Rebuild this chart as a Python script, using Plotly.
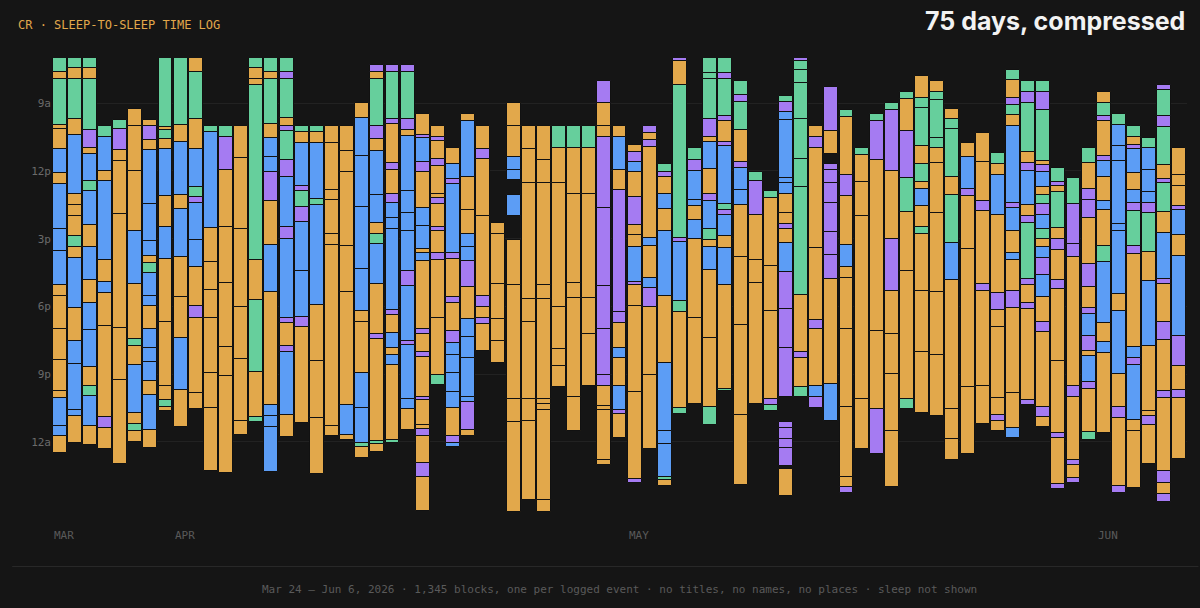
import plotly.graph_objects as go

# one entry per day, Mar 24 .. Jun 6; hours from midnight (24+ = after midnight)
START = [7.0, 7.0, 7.0, 10.03, 9.76, 9.26, 9.76, 7.0, 7.0, 7.0,
         10.03, 10.03, 10.03, 7.0, 7.0, 7.0, 10.03, 10.03, 10.03, 10.03,
         9.0, 7.3, 7.3, 7.3, 9.5, 10.03, 11.0, 9.5, 10.03, 14.3,
         9.0, 10.03, 10.03, 10.03, 10.03, 10.03, 8.0, 10.03, 10.85, 10.03,
         11.7, 7.0, 11.0, 7.0, 7.0, 8.0, 12.05, 12.9, 8.68, 7.0,
         10.03, 8.3, 9.3, 11.0, 9.5, 9.0, 8.5, 7.8, 8.0, 9.26,
         10.77, 10.32, 11.2, 7.53, 8.0, 8.0, 11.87, 12.3, 11.0, 8.5,
         9.5, 10.03, 10.53, 8.2, 11.0]

# blocks per day: category letter + hours (g=green b=blue o=orange p=purple, x=unlogged gap)
BLOCKS = [
    "g.6 o.35 g2.0 o.2 o.9 b1.05 o.5 b1.95 b1.0 b1.5 o.5 o1.45 o1.35 o1.4 o.3 b1.25 b.45 o.75",
    "g.45 o.5 g1.75 o.7 b2.6 o.5 o.5 o.9 g.45 o.5 b2.2 o1.5 b1.0 b2.05 b.25 o1.2",
    "g.45 o.5 g2.25 p.8 o.25 b1.2 g.45 b1.5 o.95 b1.5 o1.0 b1.2 b1.65 o.8 g.45 b1.35 o.85",
    "g.47 b1.5 o.45 b3.5 o.95 b.5 o1.45 o4.05 p.47 o.93",
    "g.4 p.9 o.5 o2.35 o5.05 o2.3 o3.7",
    "o.75 o2.0 o2.65 b2.35 o2.45 g.3 o.85 b2.1 o.5 g.3 o.5",
    "o.27 p.6 o.45 b2.4 b1.6 b.7 o.3 g.45 b1.0 b.45 o1.0 b.85 b.65 b.8 o.65 b1.55 o.8",
    "g3.05 o.15 g.4 o.45 b2.05 o1.4 b1.4 o2.8 o2.8 o.65 g.3 o.2",
    "g2.95 o.75 b2.35 o.65 b2.1 o1.8 o1.8 b2.3 o1.65",
    "o.6 g2.1 o1.35 b1.65 g.45 p.25 b1.65 b1.2 o1.75 p.5 o3.35 o.7",
    "g.25 b4.25 o1.5 o1.25 o1.25 o2.4 o1.55 o2.8",
    "g.45 p1.5 o2.5 o2.5 o2.8 o1.3 o4.3",
    "o1.4 o3.15 o3.45 o2.3 o2.75 o.6",
    "g.45 o.5 o.25 g7.75 o1.75 g3.2 o2.0 g.2",
    "g.6 o.35 g1.95 o.65 b.85 b.65 p1.3 o1.95 b2.05 o5.0 b.5 b.5 b2.0",
    "g.6 p.35 g1.7 o.35 p.25 g1.25 p.75 b2.25 p.5 b3.5 p.25 o1.0 p.25 b2.8 o1.0",
    "g.25 o.5 b1.9 p.22 g.7 p.65 b2.2 b2.0 p.45 o4.25",
    "g.25 o.5 b2.45 g.3 b4.4 o2.5 o2.5 o2.5",
    "o.75 o2.05 o.45 o1.5 o.5 o8.0 o.45",
    "o1.1 o.9 o3.3 o2.05 o5.0 b1.3 o.25",
    "o.65 b1.7 b2.25 b2.75 b1.85 o.5 o2.25 b1.55 b1.55 g.15 o.5",
    "p.3 o.35 g2.05 p.6 o.5 b1.95 b1.25 o.5 g.45 b1.75 o2.2 p.25 o4.5 g.15 o.35",
    "p.3 g2.1 p.22 o1.75 p.3 o1.05 p.4 b.65 b.5 b3.6 p.22 o.8 b.65 o.3 b.45 o3.3 g.15",
    "p.3 g2.1 p.5 o.25 b2.45 b.95 b.8 b1.8 p.65 b2.45 p.15 b2.4 b.45 o.9",
    "o.9 p.15 b1.05 p.45 o1.6 b.8 b1.0 o.2 b.35 o3.0 p.22 o.8 p.22 o1.75 p.15 o1.1 o.2 p.3 o1.2 p.6 o1.5",
    "o.45 p.2 o.8 p.3 o1.25 o.15 p.3 o1.0 p.2 o.95 p.3 o2.6 o2.5 g.45",
    "o.7 b.65 p.25 b3.05 p.25 o1.7 p.25 o1.25 p.5 b.55 b.8 b.85 b.7 o1.25 p.3 b.15",
    "o.3 b2.45 o1.5 o1.05 b.55 b.65 p1.15 o1.4 b.8 b.95 b1.7 b.25 p1.2 o.3",
    "o1.0 p.45 o2.5 o3.55 p.5 o.5 p.25 o1.2",
    "o.5 o2.2 o1.55 o1.0 o.95",
    "o1.0 o1.4 b.55 b.45 x.65 b.95 x1.05 o2.0 o5.05 o1.0 o4.0",
    "o1.0 o1.5 o5.15 o1.0 o3.4 o1.0 o3.5",
    "o1.5 o1.0 o4.5 o.65 o4.4 o.25 o.25 o4.0 o.5",
    "g.95 o1.55 o5.5 o1.85 o.75 o.95",
    "g.95 o2.05 o3.95 o.65 o4.4 o1.5",
    "g.95 o2.05 o4.6 o1.6 o2.3",
    "p1.0 o1.0 o.5 p3.15 p3.45 p1.9 p2.05 p.45 o.9 o.2 o2.2 o.2",
    "o.45 b1.5 o.85 p5.4 p.5 o1.1 b.45 o1.25 b1.05 p.2 o1.05",
    "o.3 p.45 b.45 o1.1 p1.25 o.45 o.5 b1.55 p.15 o.95 o3.8 o3.85 p.15",
    "p.3 o.3 p.3 o4.05 b.35 o1.4 b.45 p.85 o3.0 o3.3",
    "g.35 p.2 o.75 b.7 o.95 b2.9 o2.95 b3.0 b.6 b1.45 g.12 o.3",
    "p.15 o1.05 g6.75 p.2 b2.6 g.5 o4.25 g.25",
    "g.5 p.5 b1.3 b.25 o.6 b.85 o3.5 o3.8",
    "g.65 g.3 g1.75 p.8 o.2 b1.2 o1.1 p.35 b1.2 g.5 o.3 b1.05 o3.0 o3.05 g.8",
    "g.65 p.3 g1.6 p.25 o.9 p.2 b2.55 g.3 p.2 b.95 o.5 b1.65 o4.6 g.1",
    "g.65 p.3 g1.25 o1.4 p.25 b1.0 b.65 o2.3 o3.0 o4.0 o3.1",
    "g.4 p1.5 o2.0 o1.0 o5.35",
    "g.3 o3.0 o2.0 o3.9 p.25 g.3",
    "g.25 p.45 b.35 b2.6 b.2 b.5 o.85 o.45 p.25 o.6 b1.3 p1.65 p1.7 p2.2 x1.1 p.25 p.5 p.4 p.8 x.1 o1.2",
    "p.15 g.4 g.55 g1.6 g1.75 g1.25 g4.8 o2.5 p.3 o1.25 g.45",
    "o.45 p.5 o4.45 o3.15 p.4 o2.55 b.5 p.45",
    "p1.95 o1.0 x.45 p.25 p.6 p.85 p1.3 p1.0 p1.1 o4.65 b1.6",
    "g.3 o2.6 p.9 o2.2 b.95 o.5 o2.25 o3.45 o3.1 o.45 p.25",
    "g.3 o1.2 o1.5 o8.1 o2.2",
    "g.3 p1.7 o7.6 o3.45 p2.0",
    "g.3 p2.7 o3.0 p2.3 o1.9 o1.8 o2.5 o2.5",
    "g.3 o1.45 p2.05 g1.5 o2.65 o5.65 g.45",
    "o.95 g.45 g1.7 o.8 g.8 o.3 b.75 o.95 g.3 o2.5 o2.7 o2.7",
    "o.5 g.35 g1.7 g.45 o.65 o2.2 o3.5 o2.8 o2.7",
    "o.45 g.45 g2.1 o.8 g2.15 b1.6 o5.75 o1.3 o.95",
    "o.6 b1.45 p.3 o2.35 o6.1 o2.95",
    "o1.3 o1.7 p.45 o3.25 p.3 o4.2 o1.7",
    "g.5 o.5 b1.75 o3.45 p.75 o.75 o3.15 o.75 p.25 o.45",
    "g.45 o.8 p.3 g.45 o.5 b3.4 p.2 b1.05 o.95 b.3 o1.4 p.75 o3.75 o1.55 b.45",
    "g.5 p.5 g2.15 o.5 p.35 b1.5 o.5 p.3 g2.5 p.25 o.8 p.25 o4.05 p.2",
    "g.5 p.8 g2.25 o.2 p.3 b.65 o.35 g.4 p.5 b.6 g.45 o.35 b.5 p.75 b1.0 o1.1 p.45 o3.3 p.45 o.45",
    "g.6 p.2 o.25 g1.6 o.5 p.5 o1.3 p.4 o3.2 o3.2 p.2 o2.05 p.2",
    "g1.15 p1.8 p.55 o5.7 p.5 o2.8 p.2 o.6 p.2",
    "g.65 o1.15 p.5 p.8 o2.0 p1.05 o.9 p.3 b.95 p.65 o.25 b1.15 p.3 o1.9 g.35",
    "o.5 g.55 p.22 o1.55 p.22 b.75 o1.05 b.4 o1.6 g.7 b2.7 o.85 b.45 o3.55",
    "g.45 b.95 b.65 b2.8 b.3 b2.8 o.75 b2.8 o1.45 p.5 o3.0 p.3",
    "g.45 o.35 p.2 b1.05 o.75 b.6 p.35 g1.55 p.35 o4.1 b.5 p.3 b2.45 o.5 o2.5",
    "g.45 b1.0 b.95 b.5 p.45 g1.7 o1.3 b2.85 o2.9 o.2 p.4 o1.75",
    "p.2 g1.15 p.5 g1.7 o.6 p.2 g1.25 o.95 b2.05 p.2 o1.7 p.8 o2.25 p.3 o3.25 p.5 o.5 p.35",
    "o1.2 o.45 o.9 p.2 b1.1 o.9 b3.55 p1.35 o1.05 p.35 o2.7",
]

COLORS = {'o': '#E2A84B', 'b': '#5C9DF5', 'g': '#66CF9C', 'p': '#A57BF2'}
HOUR_TICKS = [9, 12, 15, 18, 21, 24]
HOUR_LABELS = ['9a', '12p', '3p', '6p', '9p', '12a']
MONTHS = ['MAR', 'APR', 'MAY', 'JUN']
MONTH_DAY = [0, 8, 38, 69]  # day index of each month's first column

fig = go.Figure()
for cat in ['o', 'b', 'g', 'p']:
    X, Y, B = [], [], []
    for i, (t0, day) in enumerate(zip(START, BLOCKS)):
        t = t0
        for tok in day.split():
            d = float(tok[1:])
            if tok[0] == cat:
                X.append(i)
                Y.append(d)
                B.append(t)
            t += d
    fig.add_trace(go.Bar(
        x=X, y=Y, base=B,
        marker={'color': COLORS[cat], 'line': {'color': '#111111', 'width': 1}},
        width=0.92, showlegend=False))

for m, i in zip(MONTHS, MONTH_DAY):
    fig.add_annotation(x=i - 0.5, y=0, xref='x', yref='paper', yshift=-32,
                       text=m, showarrow=False, xanchor='left',
                       font={'family': 'DejaVu Sans Mono', 'size': 11, 'color': '#5a5a5a'})

fig.add_annotation(x=0, y=1, xref='paper', yref='paper', xshift=-36, yshift=42,
                   text='CR · SLEEP-TO-SLEEP TIME LOG', showarrow=False,
                   xanchor='left', yanchor='top',
                   font={'family': 'DejaVu Sans Mono', 'size': 12, 'color': '#E2A84B'})
fig.add_annotation(x=1, y=1, xref='paper', yref='paper', xshift=0, yshift=54,
                   text='<b>75 days, compressed</b>', showarrow=False,
                   xanchor='right', yanchor='top',
                   font={'family': 'Inter', 'size': 25, 'color': '#F2F2F2'})
fig.add_annotation(x=0.5, y=0, xref='paper', yref='paper', yshift=-86,
                   text='Mar 24 – Jun 6, 2026 · 1,345 blocks, one per logged event · no titles, no names, no places · sleep not shown',
                   showarrow=False,
                   font={'family': 'DejaVu Sans Mono', 'size': 11, 'color': '#5a5a5a'})
fig.add_shape(type='line', xref='paper', yref='paper', x0=-0.035, x1=1.01, y0=-0.12, y1=-0.12,
              line={'color': '#2a2a2a', 'width': 1})

fig.update_layout(
    width = 1200,
    height = 608,
    barmode = 'overlay',
    paper_bgcolor = '#151515',
    plot_bgcolor = '#151515',
    margin = dict(l=52, r=13, t=58, b=96),
    bargap = 0,
    xaxis = dict(
      range = [-0.5, 74.5],
      showticklabels = False,
      showgrid = False,
      zeroline = False,
    ),
    yaxis = dict(
      range = [27.1, 7.0],
      tickvals = HOUR_TICKS,
      ticktext = HOUR_LABELS,
      gridcolor = '#222222',
      zeroline = False,
      tickfont = {'family': 'DejaVu Sans Mono', 'size': 11, 'color': '#6a6a6a'},
    )
)

fig.write_html("out.html", config={'displayModeBar': False},
               post_script="document.body.style.margin='0';document.body.style.background='#151515';")
